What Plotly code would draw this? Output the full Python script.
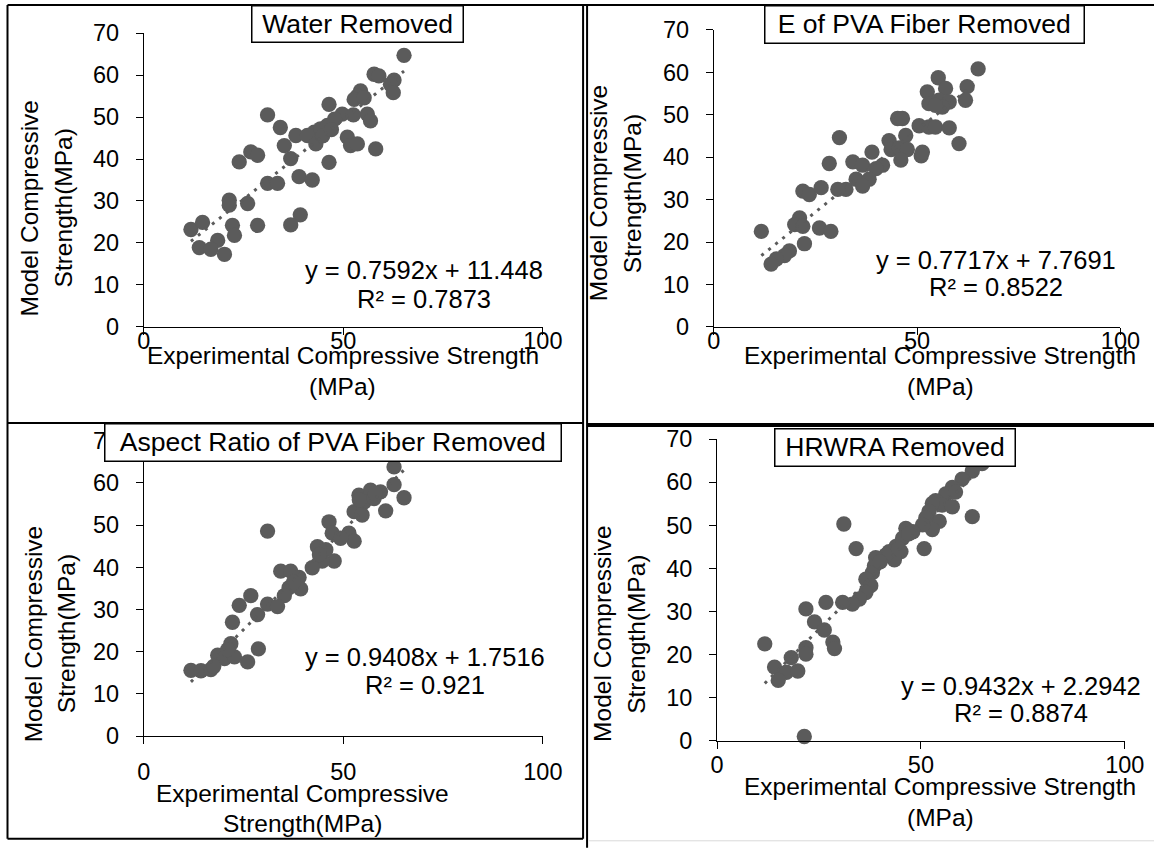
import plotly.graph_objects as go

W, H = 1154, 850
FONT = "Liberation Sans, Arial, sans-serif"
GRAY = "#5b5b5b"

# ---------------- data ----------------
titles = ["Water Removed", "E of PVA Fiber Removed",
          "Aspect Ratio of PVA Fiber Removed", "HRWRA Removed"]
slopes = [0.7592, 0.7717, 0.9408, 0.9432]
intercepts = [11.448, 7.7691, 1.7516, 2.2942]
eq_texts = ["y = 0.7592x + 11.448", "y = 0.7717x + 7.7691",
            "y = 0.9408x + 1.7516", "y = 0.9432x + 2.2942"]
r2_texts = ["R² = 0.7873", "R² = 0.8522", "R² = 0.921", "R² = 0.8874"]
x_ticks = [0, 50, 100]
y_ticks = [0, 10, 20, 30, 40, 50, 60, 70]

exp_water = [65.2, 57.7, 58.9, 62.7, 61.8, 62.5, 54.3, 53.5, 52.7, 55.2, 46.4, 49.7, 56.0, 56.8,
             31.0, 34.2, 38.1, 35.2, 36.8, 42.7, 44.3, 46.0, 41.0, 43.1, 51.0, 51.8, 53.5, 58.1,
             46.4, 23.9, 26.8, 28.5, 38.9, 42.2, 31.0, 33.5, 21.4, 26.0, 21.4, 39.2, 36.8, 28.5,
             22.2, 22.7, 11.8, 14.7, 18.5, 13.9, 16.8, 20.2, 44.8, 47.8, 52.5, 47.0]
mod_water = [64.7, 60.2, 59.8, 58.8, 57.8, 55.8, 56.2, 55.0, 54.2, 54.6, 53.0, 50.7, 50.7, 49.1,
             50.5, 47.5, 45.6, 43.2, 40.1, 46.4, 47.2, 48.0, 45.6, 43.6, 45.2, 43.2, 43.6, 42.4,
             39.2, 39.3, 41.7, 40.9, 35.8, 35.0, 34.2, 34.2, 30.2, 29.4, 29.0, 26.7, 24.3, 24.2,
             24.2, 21.8, 23.2, 24.9, 20.6, 18.9, 18.5, 17.3, 45.5, 49.5, 50.5, 47.0]

exp_modulus = [65.0, 55.2, 62.3, 57.0, 52.5, 61.9, 52.9, 55.4, 57.9, 56.2, 54.5, 45.2, 46.4, 30.9,
               47.2, 43.1, 50.5, 52.9, 54.5, 57.9, 43.6, 45.6, 47.6, 46.0, 60.3, 51.0, 51.3, 38.9,
               34.2, 36.6, 41.5, 39.9, 28.4, 35.0, 38.2, 36.6, 32.5, 30.5, 21.9, 23.5, 26.4, 21.1,
               19.9, 21.9, 26.0, 28.8, 11.7, 22.3, 18.6, 17.4, 15.4, 14.1]
mod_modulus = [60.8, 58.7, 56.6, 56.2, 55.4, 53.4, 52.6, 53.4, 53.0, 51.8, 52.2, 49.1, 49.1, 44.6,
               45.1, 43.9, 47.4, 47.1, 47.1, 46.9, 41.8, 42.2, 41.8, 39.3, 43.2, 40.3, 41.2, 41.2,
               38.9, 38.1, 38.1, 37.3, 38.5, 34.8, 34.8, 33.2, 32.4, 32.4, 32.0, 31.2, 32.8, 25.7,
               24.1, 23.7, 23.3, 22.5, 22.5, 19.6, 17.9, 16.8, 16.0, 14.8]

exp_aspect = [62.7, 62.7, 65.2, 60.6, 53.9, 56.8, 59.3, 55.2, 57.7, 52.7, 54.7, 46.4, 47.2, 51.4,
              52.7, 49.3, 31.0, 43.5, 45.6, 47.7, 44.7, 42.2, 34.3, 36.8, 38.9, 39.3, 36.4, 35.2,
              26.8, 23.9, 31.0, 33.5, 28.5, 22.2, 21.8, 18.5, 20.2, 22.7, 28.7, 26.0, 11.8, 14.3,
              16.8, 54.0, 58.0, 44.0, 17.5, 21.0, 37.5]
mod_aspect = [63.8, 59.6, 56.5, 53.4, 57.1, 58.3, 57.9, 55.5, 56.3, 53.2, 52.4, 50.8, 48.1, 48.1,
              46.2, 46.9, 48.6, 44.9, 44.2, 41.5, 41.5, 39.9, 39.1, 39.1, 37.6, 34.9, 35.2, 33.3,
              33.3, 31.0, 31.3, 30.7, 28.8, 27.0, 21.9, 19.2, 18.4, 18.8, 20.7, 17.6, 15.6, 15.5,
              15.8, 56.0, 57.5, 43.0, 16.5, 20.5, 36.5]

exp_hrwra = [65.0, 62.6, 60.1, 57.7, 56.1, 58.5, 53.6, 55.2, 57.7, 52.8, 52.0, 54.5, 51.2, 52.8,
             50.4, 62.6, 46.3, 45.5, 43.9, 42.2, 45.1, 43.5, 41.4, 50.8, 31.1, 34.1, 38.9, 38.6,
             38.1, 36.5, 37.7, 36.5, 34.9, 33.2, 30.8, 26.7, 21.8, 23.9, 26.3, 28.4, 28.8, 21.8,
             21.8, 11.7, 18.2, 14.1, 17.0, 19.8, 15.0, 21.4, 48.0, 40.0, 47.0, 44.5]
mod_hrwra = [64.3, 62.6, 60.7, 58.8, 57.3, 57.7, 55.7, 54.7, 54.3, 55.1, 53.2, 50.9, 51.7, 49.0,
             50.1, 52.0, 49.3, 47.0, 45.1, 43.9, 43.9, 42.0, 43.1, 44.6, 50.3, 44.6, 42.5, 40.6,
             39.0, 37.5, 36.0, 34.4, 32.9, 31.7, 32.1, 32.1, 30.6, 27.6, 25.7, 22.9, 21.4, 21.6,
             20.1, 22.5, 19.3, 17.1, 15.9, 16.2, 14.0, 1.0, 48.5, 41.5, 48.0, 44.5]

exp_all = [exp_water, exp_modulus, exp_aspect, exp_hrwra]
mod_all = [mod_water, mod_modulus, mod_aspect, mod_hrwra]

# ---------------- layout geometry (target picture pixels) ----------------
# the photographed page shows the figure at scale S with offset (OX, OY);
# positions below are in picture pixels and converted back to figure pixels.
S, OX, OY = 0.979, 5.5, 13.0

boxes = [(142.7, 542.7, 330.0, 33.3),
         (714.0, 1121.7, 330.0, 30.0),
         (142.7, 542.7, 743.3, 445.0),
         (717.3, 1126.0, 748.0, 443.3)]
x_standoff = [-14, -14, 8, -4]
title_boxes = [(252, 462, 5, 43), (768, 1083, 5, 44), (108, 557, 427, 466), (777, 1015, 432, 471)]
eq_pos = [(424, 273, 302), (997, 262, 290), (425, 663, 692), (1022, 693, 720)]
ytitle_pos = [(28, 62, 210), (598, 632, 195), (32, 66, 640), (603, 637, 640)]
xtitle_lines = [("Experimental Compressive Strength", "(MPa)"),
                ("Experimental Compressive Strength", "(MPa)"),
                ("Experimental Compressive", "Strength(MPa)"),
                ("Experimental Compressive Strength", "(MPa)")]
xtitle_pos = [(342, 359, 390), (941, 359, 390), (302, 801, 832), (941, 794, 825)]
frame_lines = [(6, 5, 1160, 5, 2, "black"), (6, 5, 6, 847, 2, "black"),
               (6, 427, 583, 427, 2, "black"), (587, 429, 1160, 429, 4, "black"),
               (583, 5, 583, 847, 2, "black"), (587, 5, 587, 856, 2, "black"),
               (6, 847, 583, 847, 2, "black"), (589, 849, 1160, 849, 1, "#d9d9d9")]


def px(x):
    return ((x - OX) / S) / W


def py(y):
    return 1 - ((y - OY) / S) / H


def sz(v):
    return v / S


fig = go.Figure()
annotations = []
shapes = []

for i in range(4):
    n = "" if i == 0 else str(i + 1)
    xa, ya = "x" + n, "y" + n
    x0, x1, y0, y1 = boxes[i]
    xs, ys = exp_all[i], mod_all[i]
    fig.add_trace(go.Scatter(x=xs, y=ys, mode="markers", xaxis=xa, yaxis=ya,
                             marker=dict(size=sz(15), color=GRAY, line=dict(width=0)),
                             cliponaxis=False, showlegend=False, hoverinfo="skip"))
    lx = [min(xs), max(xs)]
    ly = [slopes[i] * v + intercepts[i] for v in lx]
    fig.add_trace(go.Scatter(x=lx, y=ly, mode="lines", xaxis=xa, yaxis=ya,
                             line=dict(color=GRAY, width=3, dash="3px,6px"),
                             cliponaxis=False, showlegend=False, hoverinfo="skip"))
    axis_common = dict(showgrid=False, zeroline=False, showline=True, linecolor="black",
                       linewidth=1, ticks="outside", ticklen=7, tickcolor="black",
                       tickfont=dict(family=FONT, size=sz(23), color="black"), fixedrange=True)
    fig.update_layout(**{
        ("xaxis" + n): dict(domain=[px(x0), px(x1)], range=[0, 100], tickvals=x_ticks,
                            anchor=ya, ticklabelstandoff=x_standoff[i], **axis_common),
        ("yaxis" + n): dict(domain=[py(y0), py(y1)], range=[0, 70], tickvals=y_ticks,
                            anchor=xa, ticklabelstandoff=12, **axis_common),
    })
    tx0, tx1, ty0, ty1 = title_boxes[i]
    annotations.append(dict(xref="paper", yref="paper", x=px((tx0 + tx1) / 2), y=py((ty0 + ty1) / 2),
                            xanchor="center", yanchor="middle", text=titles[i], showarrow=False,
                            width=sz(tx1 - tx0 - 4), height=sz(ty1 - ty0 - 4), borderpad=0,
                            bgcolor="white", bordercolor="black", borderwidth=1.5,
                            font=dict(family=FONT, size=sz(26), color="black")))
    ex, ey1, ey2 = eq_pos[i]
    for t, yy in ((eq_texts[i], ey1), (r2_texts[i], ey2)):
        annotations.append(dict(xref="paper", yref="paper", x=px(ex), y=py(yy),
                                xanchor="center", yanchor="middle", text=t, showarrow=False,
                                font=dict(family=FONT, size=sz(25), color="black")))
    yx1, yx2, yc = ytitle_pos[i]
    for t, xx in (("Model Compressive", yx1), ("Strength(MPa)", yx2)):
        annotations.append(dict(xref="paper", yref="paper", x=px(xx), y=py(yc),
                                xanchor="center", yanchor="middle", text=t, textangle=-90,
                                showarrow=False, font=dict(family=FONT, size=sz(24), color="black")))
    xc, xy1, xy2 = xtitle_pos[i]
    for t, yy in zip(xtitle_lines[i], (xy1, xy2)):
        annotations.append(dict(xref="paper", yref="paper", x=px(xc), y=py(yy),
                                xanchor="center", yanchor="middle", text=t,
                                showarrow=False, font=dict(family=FONT, size=sz(24), color="black")))

for (a, c, b, d, lw, col) in frame_lines:
    shapes.append(dict(type="line", xref="paper", yref="paper", x0=px(a), x1=px(b),
                       y0=py(c), y1=py(d), line=dict(color=col, width=lw), layer="above"))

fig.update_layout(width=W, height=H, margin=dict(l=0, r=0, t=0, b=0), autosize=False,
                  paper_bgcolor="white", plot_bgcolor="white", hovermode=False,
                  annotations=annotations, shapes=shapes,
                  font=dict(family=FONT, color="black"))

fig.write_html("out.html",
               config={"responsive": False, "displayModeBar": False, "staticPlot": True},
               post_script="document.body.style.margin='0';document.body.style.overflow='hidden';")
